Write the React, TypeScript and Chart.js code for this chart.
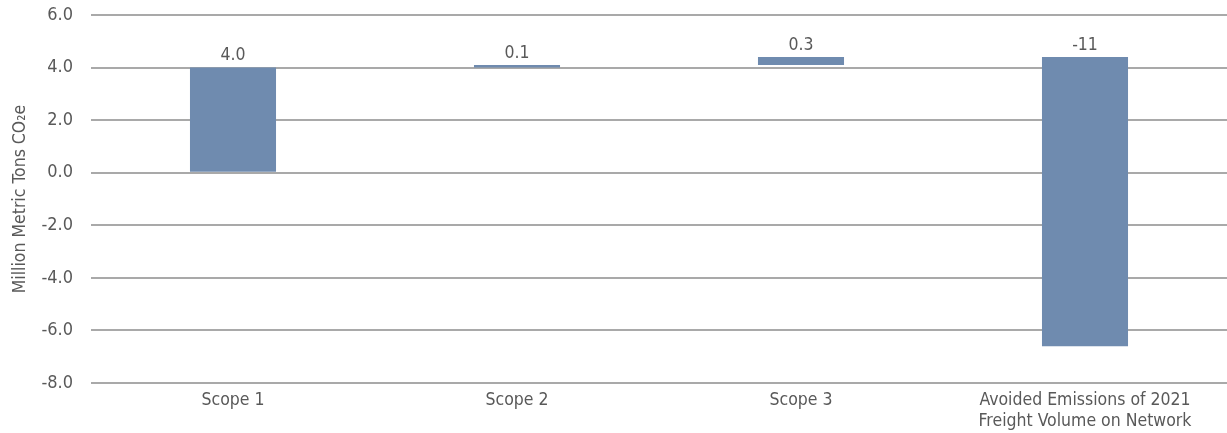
import React, { useEffect, useRef } from "react";
import { Chart, registerables } from "chart.js";

Chart.register(...registerables);

const categories: (string | string[])[] = [
  "Scope 1",
  "Scope 2",
  "Scope 3",
  ["Avoided Emissions of 2021", "Freight Volume on Network"],
];
const changes: number[] = [4.0, 0.1, 0.3, -11];
const valueLabels: string[] = ["4.0", "0.1", "0.3", "-11"];
const yTicks: number[] = [6, 4, 2, 0, -2, -4, -6, -8];

const FONT = "'DejaVu Sans Condensed', 'DejaVu Sans', sans-serif";
const TEXT = "#595959";

export default function App() {
  const ref = useRef<HTMLCanvasElement | null>(null);

  useEffect(() => {
    if (!ref.current) return;
    let running = 0;
    const ranges: [number, number][] = changes.map((c) => {
      const start = running;
      running += c;
      return [start, Math.round(running * 10) / 10];
    });

    const labelPlugin = {
      id: "valueLabels",
      afterDatasetsDraw(chart: any) {
        const ctx = chart.ctx;
        const meta = chart.getDatasetMeta(0);
        ctx.save();
        ctx.font = `17.5px ${FONT}`;
        ctx.fillStyle = TEXT;
        ctx.textAlign = "center";
        ctx.textBaseline = "bottom";
        meta.data.forEach((bar: any, i: number) => {
          const top = Math.min(bar.y, bar.base);
          ctx.fillText(valueLabels[i], bar.x, top - 3);
        });
        ctx.restore();
      },
    };

    const chart = new Chart(ref.current, {
      type: "bar",
      data: {
        labels: categories,
        datasets: [
          {
            data: ranges as any,
            backgroundColor: "#6f8baf",
            borderWidth: 0,
            categoryPercentage: 1,
            barPercentage: 0.303,
          },
        ],
      },
      options: {
        animation: false,
        responsive: false,
        maintainAspectRatio: false,
        layout: { padding: { top: 15, right: 0, left: 10, bottom: 0 } },
        plugins: { legend: { display: false }, tooltip: { enabled: false } },
        scales: {
          x: {
            grid: { display: false, drawTicks: false },
            border: { display: false },
            ticks: {
              color: TEXT,
              font: { family: FONT, size: 17.5, lineHeight: 1.2 },
              padding: 7,
              maxRotation: 0,
              autoSkip: false,
            },
            afterFit: (s: any) => {
              s.height = 50;
              s.paddingLeft = 0;
              s.paddingRight = 0;
            },
          },
          y: {
            min: -8,
            max: 6,
            afterBuildTicks: (s: any) => {
              s.ticks = yTicks.map((v) => ({ value: v }));
            },
            grid: { color: "#a9a9a9", lineWidth: 2, drawTicks: false },
            border: { display: false },
            ticks: {
              color: TEXT,
              font: { family: FONT, size: 18 },
              padding: 18,
              callback: (v: any) => Number(v).toFixed(1),
            },
            title: {
              display: true,
              text: "Million Metric Tons CO\u2082e",
              color: TEXT,
              font: { family: FONT, size: 17.5 },
              padding: { top: 0, bottom: 0 },
            },
            afterFit: (s: any) => {
              s.width = 81;
              s.paddingTop = 0;
              s.paddingBottom = 0;
            },
          },
        },
      },
      plugins: [labelPlugin],
    });
    return () => chart.destroy();
  }, []);

  return (
    <div style={{ position: "fixed", left: 0, top: 0, width: 1227, height: 433, background: "#fff" }}>
      <canvas ref={ref} width={1227} height={433} style={{ width: 1227, height: 433 }} />
    </div>
  );
}
